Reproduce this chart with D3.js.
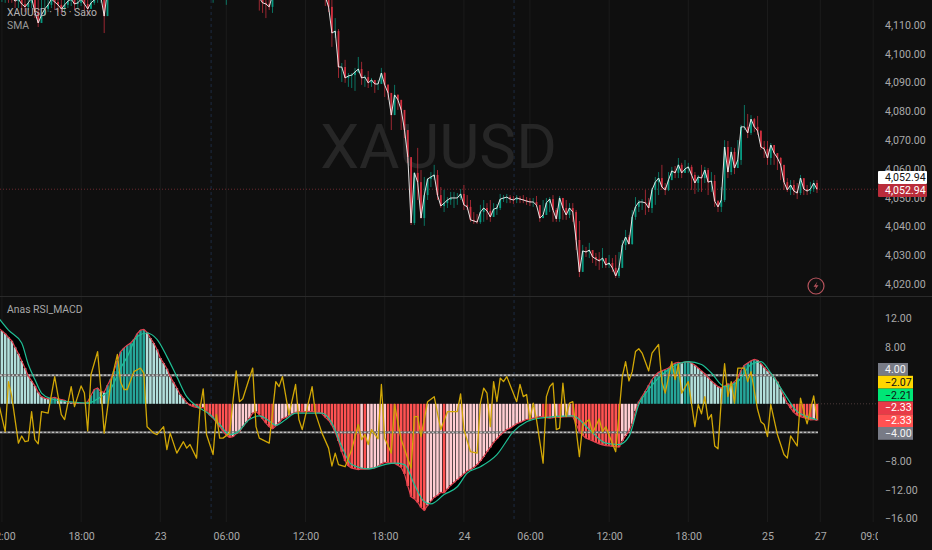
<!DOCTYPE html>
<html><head><meta charset="utf-8">
<script src="https://cdn.jsdelivr.net/npm/d3@7"></script>
<style>
html,body{margin:0;padding:0;background:#0f0f0f;overflow:hidden}
svg{display:block}
text{font-family:Roboto,"Liberation Sans",sans-serif}
</style></head><body>
<script>
// ---------- data ----------
const closes=[
4120,4119.7,4120.4,4121.1,4120.1,4119.4,4118.3,4119,4117.3,4116.3,
4117.7,4119.4,4114.5,4110.7,4113.5,4115.6,4117,4119,4118,4117,
4115.6,4117,4118.3,4119,4117.3,4117.7,4119,4117.3,4115.6,4117.7,
4118.7,4119.4,4119.7,4113.1,4122.2,4126,4130,4128,4133,4136,
4134,4138,4141,4139,4136,4140,4143,4141,4138,4135,
4138,4136,4133,4130,4133,4129,4131,4127,4130,4126,
4124,4127,4129,4125,4123,4126,4128,4124,4122,4125,
4127,4129,4126,4123,4125,4122,4124,4121,4123,4121,
4119.4,4117.7,4117.3,4116.3,4120.4,4124,4127,4130,4128,4131,
4129,4132,4130,4128,4131,4129,4127,4125,4123,4122,
4119.7,4116.3,4107.2,4107.9,4095.4,4095.4,4091.6,4092.3,4092.6,4093.7,
4094.7,4091.6,4091.9,4089.9,4090.9,4089.5,4089.5,4093.3,4089.2,4086.4,
4078.7,4085.7,4084,4080.5,4073.5,4064.1,4041.2,4058.6,4055.4,4042.9,
4050.9,4056.5,4057.2,4057.9,4050.9,4047.1,4048.1,4049.2,4049.9,4049.9,
4049.9,4051.3,4047.5,4046.8,4042.3,4041.9,4041.5,4045,4046.4,4045.4,
4043.3,4046,4046.4,4049.5,4049.9,4050.2,4049.5,4049.2,4049.9,4049.5,
4049.2,4048.8,4048.5,4048.5,4047.4,4042.9,4044,4048.2,4049.5,4045.7,
4042.6,4049.9,4046.4,4044,4046.4,4045,4035.3,4024.2,4031.5,4031.1,
4031.8,4029.4,4028.7,4028,4029,4026.6,4027.3,4025.6,4022.8,4025.6,
4033.5,4036.3,4033.9,4043.3,4046.8,4048.5,4048.5,4048.2,4046.4,4052.7,
4055.4,4056.8,4053.7,4052.7,4056.1,4059.3,4058.6,4061.4,4058.6,4060,
4060.7,4057.9,4055.1,4057.2,4056.8,4059.6,4055.4,4055.8,4048.8,4046.8,
4049.2,4067.6,4058.9,4065.9,4060.3,4063.1,4074.6,4074.6,4072.5,4077.3,
4074.6,4073.2,4067.6,4066.9,4063.8,4068.3,4065.5,4063.8,4061.4,4055.4,
4052.7,4054.4,4052.3,4051.6,4056.8,4053,4052.3,4053,4055.1,4052.94];
const highs=[
4124,4123,4124,4125,4124,4123,4122,4123,4122,4121,
4122,4123,4120,4120,4120,4121,4122,4123,4122,4121,
4121,4122,4123,4123,4122,4122,4123,4122,4121,4122,
4123,4123,4124,4124,4125,4130,4134,4133,4137,4140,
4138,4142,4145,4143,4140,4144,4147,4145,4142,4139,
4142,4140,4137,4134,4137,4133,4135,4131,4134,4130,
4128,4131,4133,4129,4127,4130,4132,4128,4126,4129,
4131,4133,4130,4127,4129,4126,4128,4125,4127,4125,
4123,4122,4121,4121,4124,4128,4131,4134,4132,4135,
4133,4136,4134,4132,4135,4133,4131,4129,4127,4126,
4121.5,4120.4,4118.7,4112.4,4108.6,4096.8,4097.9,4093.3,4093.3,4095.1,
4098.9,4097.2,4092.6,4094,4091.6,4090.9,4090.9,4095.1,4093.7,4089.5,
4084,4089.2,4086,4082.9,4075.6,4069,4063.4,4058.9,4067.3,4059.6,
4057.2,4056.8,4058.9,4061.4,4059.6,4053.7,4052.7,4050.2,4052,4052,
4051.6,4053,4054.4,4050.9,4049.2,4045,4044.3,4047.5,4049.2,4048.1,
4049.2,4048.1,4047.8,4051.3,4050.9,4051.3,4050.9,4050.6,4050.9,4050.6,
4050.9,4050.2,4049.9,4049.9,4050.6,4047.5,4049.2,4049.9,4050.2,4050.9,
4046.4,4050.6,4049.9,4049.2,4048.1,4048.1,4045.7,4041.9,4033.6,4032.9,
4034.3,4031.8,4030.8,4031.1,4032.5,4029,4030.1,4029,4030.1,4031.1,
4035.3,4038.8,4037,4045.7,4050.2,4049.2,4049.5,4052.7,4049.9,4053.4,
4057.2,4058.9,4061.4,4055.1,4058.9,4060.7,4061,4063.8,4062.1,4063.1,
4062.1,4061.4,4058.9,4057.9,4061.4,4060.7,4060.3,4058.9,4057.9,4049.2,
4053.7,4070,4069.7,4067.6,4067.3,4070,4075.3,4082.2,4079.1,4078.7,
4077.7,4078.4,4073.5,4069.7,4069.7,4069,4066.9,4064.8,4064.1,4056.8,
4056.8,4056.1,4056.1,4055.1,4057.9,4056.5,4054.4,4055.5,4056.1,4056.1];
const lows=[
4117.5,4117.3,4118,4117.7,4117.7,4117.7,4115.9,4115.9,4115.2,4114.5,
4115.2,4115.9,4112.4,4109.3,4110.7,4113.1,4114.5,4115.9,4115.2,4114.5,
4113.8,4114.5,4115.9,4116.6,4115.2,4115.6,4116.6,4115.2,4113.8,4115.6,
4117,4117.7,4117.7,4107.2,4113.1,4122,4126,4125,4129,4132,
4131,4134,4138,4135,4133,4136,4139,4137,4135,4131,
4134,4133,4129,4127,4129,4125,4128,4123,4126,4122,
4120,4123,4125,4121,4120,4122,4117.7,4120,4119.5,4121,
4117,4125,4122,4120,4121,4119.5,4120,4119.5,4120,4119.5,
4115,4114.2,4112.4,4115.2,4114.2,4120,4123,4126,4124,4127,
4125,4128,4126,4124,4127,4125,4123,4121,4119.5,4119.5,
4116.6,4114.5,4102.4,4105.5,4091.6,4090.2,4089.9,4088.5,4088.1,4087.1,
4093.3,4089.2,4088.5,4088.1,4088.5,4086.4,4087.4,4089.9,4085,4084,
4073.5,4078.7,4080.5,4073.5,4070.7,4062.1,4040.5,4040.5,4049.2,4042.9,
4040.2,4049.2,4053.7,4056.1,4049.2,4046.4,4045,4046.4,4047.5,4046.4,
4047.5,4049.2,4045.7,4045.7,4041.6,4040.9,4040.9,4040.9,4041.6,4042.3,
4041.6,4043.3,4044,4045.7,4048.5,4048.1,4048.1,4047.8,4048.1,4048.1,
4048.1,4047.5,4047.1,4046.8,4046.8,4041.6,4042.9,4044,4045,4041.6,
4041.6,4041.6,4042.3,4042.3,4042.9,4041.6,4031.8,4022.4,4024.2,4029.4,
4029,4027.3,4026.3,4024.9,4025.6,4025.6,4025.6,4024.2,4022.1,4022.1,
4025.6,4031.8,4033.6,4033.6,4042.3,4045,4045.7,4044,4045,4044.7,
4047.5,4050.9,4052.7,4050.9,4052.3,4056.8,4056.8,4056.8,4056.8,4058.6,
4058.6,4052.7,4051.3,4052,4052,4055.1,4050.9,4052,4046.8,4045,
4045,4048.5,4056.8,4057.9,4058.2,4061.4,4061.4,4073.5,4070.7,4071.8,
4072.8,4071.8,4066.6,4063.8,4061.4,4061.4,4061.4,4059.6,4056.1,4052.7,
4052,4050.9,4050.9,4049.5,4050.9,4050.9,4050.9,4051.3,4052,4051.6];
const macd=[
10.8,10.6,10.2,9.8,9.3,8.8,7.9,7,6,5,
3.9,3.2,2.5,1.6,1,.8,.7,.8,.9,.7,
.6,.5,.2,.15,.1,.09,.08,.05,.3,1.2,
2,2.2,1.7,1.6,2.6,3.5,4.6,6,7.3,7.8,
8.2,8.5,9,9.8,10.3,10.4,10,9.2,8.5,7.6,
6.4,5.7,4.9,3.8,3,2.2,1.3,.8,.2,-.2,
-.4,-.5,-.6,-.5,-1,-1.6,-2,-2.6,-3.2,-3.8,
-4.4,-4.7,-4.6,-4.2,-3.9,-3.2,-2.6,-2,-1.3,-1.1,
-1.5,-2.1,-2.7,-3.2,-3.5,-3.1,-2.6,-2.1,-1.9,-1.6,
-1.4,-1.2,-1.1,-1.15,-1.1,-1.05,-1.1,-1.15,-1.2,-1.4,
-1.9,-2.3,-3,-4,-5.2,-6.7,-8,-8.7,-9,-9.1,
-9.2,-9.1,-9.15,-9.1,-9,-8.95,-8.7,-8.4,-8.2,-8.25,
-8.3,-8.35,-8.6,-8.9,-9.8,-11.5,-13,-13.3,-13.8,-14.5,
-14.9,-14.2,-13.6,-13.1,-12.8,-12.4,-12.45,-11.9,-11.4,-11,
-10.6,-10.2,-9.8,-9.4,-9.2,-8.9,-8.5,-8,-7.4,-6.7,
-6.1,-5.4,-4.9,-4.4,-4,-3.6,-3.4,-3.1,-2.8,-2.6,
-2.4,-2.2,-2.1,-2,-1.9,-1.8,-1.85,-1.95,-2,-1.95,
-1.85,-1.9,-1.85,-1.8,-1.75,-1.8,-2.8,-3.9,-4.4,-4.8,
-5,-5.2,-5.4,-5.6,-5.75,-5.85,-5.9,-5.95,-6,-6.05,
-5.2,-4.5,-3.8,-2.8,-1,.3,1,1.8,2.6,3.4,
4,4.4,4.6,4.8,5,5.4,5.7,5.8,5.7,5.85,
5.9,5.7,5.4,5,4.6,4.2,3.7,3.2,2.8,2.4,
2.2,2.5,2.8,2.7,3.1,3.6,4.7,5.4,5.7,6,
6.2,6.1,5.6,5.1,4.6,4.2,3.7,3.1,2.1,1,
.1,-.6,-1.2,-1.6,-1.8,-1.95,-2.05,-2.25,-2.2,-2.33];
const signalIdx=[1,4,8,10,12,14,17,22,28,32,35,38,40,43,46,49,52,55,58,61,65,68,71,73,77,80,83,85,88,91,95,99,102,105,108,113,118,121,124,127,130,132,136,140,143,147,152,157,161,165,175,180,185,189,192,195,198,204,210,214,217,221,225,229,232,235,239,243,246,249];
const signalVal=[12,10.3,8.5,5.5,3.4,1.5,.7,.3,.1,1,2.1,5,6.6,9.4,9.9,9,6.6,3.8,1,-.3,-1.5,-2.9,-4.3,-4.1,-2.2,-1.7,-2.4,-3,-2.2,-1.3,-1.3,-1.3,-2.7,-6,-8.5,-9.1,-8.5,-8.3,-8.5,-11.3,-13.7,-14,-12.7,-11.6,-9.7,-8.8,-7.1,-3.9,-2.5,-2,-1.7,-3.6,-5.5,-5.7,-4.6,-.1,2,4.8,5.9,5.5,4.3,2.4,3.1,5.5,5.9,4.3,1.5,-1.1,-1.8,-2.21];
const rsiIdx=[1,3,4,5,7,8,9,10,11,12,13,14,16,18,20,21,23,24,26,27,28,29,31,32,33,35,37,38,39,40,42,44,45,46,48,49,51,52,53,55,57,58,59,61,62,63,64,66,67,68,69,71,73,74,75,77,78,79,80,83,85,86,87,89,91,92,93,96,97,99,101,102,103,104,106,108,110,111,112,113,114,116,117,118,120,121,123,126,127,128,129,131,133,135,137,140,141,142,144,146,147,148,149,150,151,152,153,154,155,158,159,160,161,162,163,164,166,167,168,169,170,171,172,173,174,175,177,178,180,181,183,184,185,188,190,191,192,193,194,195,196,198,199,201,202,203,205,206,207,208,210,212,213,214,215,216,217,218,219,220,221,222,223,224,225,227,228,229,231,232,233,234,235,237,239,240,241,243,244,245,246,248,249];
const rsiVal=[.1,-3.9,3.1,1,-5.5,-4.5,-5.3,-5.2,-1.1,-5,-5.6,-1.1,-1.3,3.8,-1.5,-2.2,2.4,-.4,2.5,1.5,-3.8,4.1,7.3,2,-4.1,2.9,6.9,3,2,2,4.5,5,4.3,-3.2,-4.1,-4.3,-3.2,-6.4,-4.1,-6.9,-5.3,-6.2,-5.7,-7.6,-.8,2.1,-4.3,-7.1,-1.5,-4.8,-4.8,-4.1,4.6,.3,.7,3.6,5,-3.2,-4.8,-5.5,3.1,2.4,3.8,-1.5,2.7,-2.2,-3.6,2.4,-1.3,-4.1,-6.2,-8.7,-6.9,-8.5,-8.8,-6.4,-2.9,-5,-4.3,-5.7,-3.6,-4.9,2.7,-4.8,-6.9,-.1,-5,-9,-1.8,-1.8,-4.6,.3,1,-3.6,-1.1,-1.1,1.4,-3.6,-6.7,-6.9,.1,2.2,1.5,-3.2,3.1,.3,3.6,3.1,3.8,.3,2.7,1,1.3,-2.2,.1,-2.2,-8.3,1,2.4,2.9,-3.6,-3.4,2.9,-1.8,.1,.3,-7.4,-2.9,-2.2,-4.1,-2.1,-3.9,-3.2,-6.7,3.8,5.9,3.2,4.5,7.3,7.7,7.1,4.6,7.1,8.3,3.1,1.5,5.9,3.4,5.5,1.5,3.1,-3.2,-.1,-1.4,1,-2.2,-1.5,-5.9,-6.3,.6,5.6,1,3.1,.1,5,5,3.1,4.5,-.8,-2.5,-2.9,-4.6,-.1,-4.3,-7.1,-7.6,-4.5,-5.9,.8,-1.1,-2.8,1.1,-2.07];
const timeTickIdx=[2,26,50,70,94,118,142,162,186,210,234,250,266];
const timeTickLabels=["12:00","18:00","23","06:00","12:00","18:00","24","06:00","12:00","18:00","25","27","09:00"];
const sessionBreaks=[65.4,157.2];
const priceTicks=[4020,4030,4040,4050,4060,4070,4080,4090,4100,4110];
const oscTicks=[12,8,-8,-12,-16];
const oscLevels=[4,-4];
const lastPrice=4052.94;
const oscBadgeVals=[4,-2.07,-2.21,-2.33,-2.33,-4];
const oscBadgeFill=["#787b86","#ffd600","#00e676","#e83a48","#ff5252","#787b86"];
const oscBadgeText=["#f4f4f4","#111","#111","#fff","#fff","#f4f4f4"];

// ---------- layout ----------
const W=932,H=550,plotR=878,axisX=885,fs=10.6;
const svg=d3.select("body").append("svg").attr("width",W).attr("height",H);
const bg="#0f0f0f";
svg.append("rect").attr("width",W).attr("height",H).attr("fill",bg);
const defs=svg.append("defs");
defs.append("clipPath").attr("id","cp").append("rect").attr("width",plotR).attr("height",296);
defs.append("clipPath").attr("id","co").append("rect").attr("y",297).attr("width",plotR).attr("height",225);
defs.append("clipPath").attr("id","ct").append("rect").attr("y",525).attr("width",plotR).attr("height",25);

const x=d3.scaleLinear().domain([0,250]).range([-4.7,820.3]);
const yP=d3.scaleLinear().domain([4020,4110]).range([284,25]);
const yO=d3.scaleLinear().domain([-16,12]).range([518.2,318]);
const idx=d3.range(closes.length);

// grid
const grid=svg.append("g");
grid.selectAll("line.g").data(timeTickIdx).join("line").attr("class","g")
 .attr("x1",d=>x(d)).attr("x2",d=>x(d)).attr("y1",0).attr("y2",522)
 .attr("stroke","#1b1b1b").attr("stroke-width",1);
grid.selectAll("line.s").data(sessionBreaks).join("line").attr("class","s")
 .attr("x1",d=>x(d)).attr("x2",d=>x(d)).attr("y1",0).attr("y2",522)
 .attr("stroke","#1d2b42").attr("stroke-width",1).attr("stroke-dasharray","3 3");
svg.append("line").attr("x1",0).attr("x2",W).attr("y1",296.5).attr("y2",296.5).attr("stroke","#2a2a2a");

// watermark
svg.append("text").attr("x",438.5).attr("y",168).attr("text-anchor","middle")
 .attr("font-size",62).attr("fill","#262626").text("XAUUSD");

// last price line
svg.append("line").attr("x1",0).attr("x2",plotR).attr("y1",yP(lastPrice)).attr("y2",yP(lastPrice))
 .attr("stroke","#6b2a30").attr("stroke-width",1).attr("stroke-dasharray","1 2");

// candles
const gp=svg.append("g").attr("clip-path","url(#cp)");
const up=i=>i>0&&closes[i]>=closes[i-1];
const col=i=>up(i)?"#089981":"#d0303f";
gp.selectAll("line.w").data(idx).join("line").attr("class","w")
 .attr("x1",i=>x(i)).attr("x2",i=>x(i)).attr("y1",i=>yP(highs[i])).attr("y2",i=>yP(lows[i]))
 .attr("stroke",col).attr("stroke-width",1).attr("stroke-opacity",.72);
gp.selectAll("rect.b").data(idx.slice(1)).join("rect").attr("class","b")
 .attr("x",i=>x(i)-.9).attr("width",1.8)
 .attr("y",i=>Math.min(yP(closes[i]),yP(closes[i-1])))
 .attr("height",i=>Math.abs(yP(closes[i])-yP(closes[i-1])))
 .attr("fill",col);
gp.append("path").datum(idx).attr("fill","none").attr("stroke","#ececec").attr("stroke-width",.95)
 .attr("stroke-linejoin","round")
 .attr("d",d3.line().x(i=>x(i)).y(i=>yP(closes[i])));

// oscillator
const go=svg.append("g").attr("clip-path","url(#co)");
const macdIdx=idx.slice(1);
const pm=macdIdx.map(i=>[x(i),yO(macd[i])]);
const ps=signalIdx.map((s,k)=>[x(s),yO(signalVal[k])]).reverse();
go.append("path").attr("d",d3.line()(pm.concat(ps))+"Z").attr("fill","#000");
const barColor=i=>{const v=macd[i],p=macd[i-1];
  return v>=0?(v>p?"#26a69a":"#b2dfdb"):(v<p?"#ff5252":"#ffcdd2");};
go.selectAll("rect.h").data(macdIdx).join("rect").attr("class","h")
 .attr("x",i=>x(i)-1.3).attr("width",2.6)
 .attr("y",i=>Math.min(yO(0),yO(macd[i])))
 .attr("height",i=>Math.abs(yO(macd[i])-yO(0)))
 .attr("fill",barColor);
oscLevels.forEach(l=>{
 go.append("line").attr("x1",0).attr("x2",x(249)+1).attr("y1",yO(l)).attr("y2",yO(l))
  .attr("stroke","#6a6a6a").attr("stroke-width",2.4);
 go.append("line").attr("x1",0).attr("x2",x(249)+1).attr("y1",yO(l)).attr("y2",yO(l))
  .attr("stroke","#bdbdbd").attr("stroke-width",1.4).attr("stroke-dasharray","2 2");
});
go.append("line").attr("x1",x(249)+1).attr("x2",plotR).attr("y1",yO(0)).attr("y2",yO(0))
 .attr("stroke","#4a3a3a").attr("stroke-dasharray","1 2");
go.append("path").datum(macdIdx).attr("fill","none").attr("stroke","#e2404e").attr("stroke-width",1.2)
 .attr("d",d3.line().x(i=>x(i)).y(i=>yO(macd[i])));
go.append("path").datum(signalIdx.map((s,k)=>[s,signalVal[k]])).attr("fill","none")
 .attr("stroke","#1fbf95").attr("stroke-width",1.2)
 .attr("d",d3.line().curve(d3.curveMonotoneX).x(d=>x(d[0])).y(d=>yO(d[1])));
go.append("path").datum(rsiIdx.map((s,k)=>[s,rsiVal[k]])).attr("fill","none")
 .attr("stroke","#d1a706").attr("stroke-width",1.3).attr("stroke-linejoin","round")
 .attr("d",d3.line().x(d=>x(d[0])).y(d=>yO(d[1])));

// axes
function styleAxis(g){g.select(".domain").remove();g.selectAll(".tick line").remove();
 g.selectAll("text").attr("fill","#a9a9a9").attr("font-size",fs).attr("font-family","Roboto,sans-serif");}
svg.append("g").attr("transform",`translate(${axisX},0)`)
 .call(d3.axisRight(yP).tickValues(priceTicks).tickFormat(d3.format(",.2f")).tickSize(0).tickPadding(0)).call(styleAxis);
svg.append("g").attr("transform",`translate(${axisX},0)`)
 .call(d3.axisRight(yO).tickValues(oscTicks).tickFormat(d3.format(".2f")).tickSize(0).tickPadding(0)).call(styleAxis);
svg.append("g").attr("clip-path","url(#ct)").append("g").attr("transform","translate(0,532)")
 .call(d3.axisBottom(x).tickValues(timeTickIdx).tickFormat((d,i)=>timeTickLabels[i]).tickSize(0).tickPadding(0)).call(styleAxis);

// price badges
const pb=[{f:"#fff",t:"#111",yy:177.5},{f:"#b92c3a",t:"#fff",yy:190.5}];
pb.forEach(b=>{
 svg.append("rect").attr("x",878).attr("y",b.yy-6.6).attr("width",49).attr("height",13.2).attr("rx",1).attr("fill",b.f);
 svg.append("text").attr("x",885).attr("y",b.yy+3.8).attr("font-size",fs).attr("fill",b.t).text(d3.format(",.2f")(lastPrice));
});

// oscillator badges
const badgeTop=363,badgeH=12.8;
oscBadgeVals.forEach((v,k)=>{
 const t=d3.format(".2f")(v);
 const wd=k===0?30:35;
 svg.append("rect").attr("x",878).attr("y",badgeTop+k*badgeH).attr("width",wd).attr("height",badgeH).attr("fill",oscBadgeFill[k]);
 svg.append("text").attr("x",885).attr("y",badgeTop+k*badgeH+10).attr("font-size",fs).attr("fill",oscBadgeText[k]).text(t);
});

// legends
const leg=[["XAUUSD · 15 · Saxo",16,"#b5b5b5"],["SMA",29,"#9a9a9a"],["Anas RSI_MACD",313,"#a8a8a8"]];
leg.forEach(l=>svg.append("text").attr("x",7).attr("y",l[1]).attr("font-size",10.4).attr("fill",l[2]).text(l[0]));

// flash icon
const ic=svg.append("g").attr("transform","translate(816,286)");
ic.append("circle").attr("r",8).attr("fill","none").attr("stroke","#b5535c").attr("stroke-width",1.2);
ic.append("path").attr("d","M1.5,-4.5 L-2.5,0.8 L0,0.8 L-1.5,4.5 L2.5,-0.8 L0,-0.8 Z").attr("fill","#b5535c");
</script>
</body></html>
